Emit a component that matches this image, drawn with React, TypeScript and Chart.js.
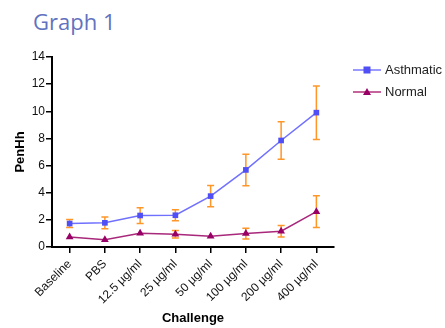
import React, { useEffect, useRef } from "react";
import { Chart, registerables } from "chart.js";

Chart.register(...registerables);

const categories = ["Baseline", "PBS", "12.5 µg/ml", "25 µg/ml", "50 µg/ml", "100 µg/ml", "200 µg/ml", "400 µg/ml"];
const asthmatic = [1.73, 1.78, 2.32, 2.34, 3.75, 5.68, 7.85, 9.9];
const asthmaticErr = [0.29, 0.43, 0.58, 0.4, 0.79, 1.16, 1.38, 1.97];
const normal = [0.74, 0.54, 1.01, 0.94, 0.79, 0.99, 1.16, 2.6];
const normalErr = [0, 0, 0, 0.28, 0, 0.4, 0.42, 1.17];
const yTicks = [0, 2, 4, 6, 8, 10, 12, 14];

const FONT = "'Liberation Sans', Arial, sans-serif";
const ERR_COLOR = "#FF9628";

const errorBarPlugin = {
  id: "errorBars",
  beforeDatasetsDraw(chart: any) {
    const ctx = chart.ctx;
    const y = chart.scales.y;
    const errs = [asthmaticErr, normalErr];
    ctx.save();
    ctx.strokeStyle = ERR_COLOR;
    ctx.lineWidth = 1.5;
    chart.data.datasets.forEach((ds: any, di: number) => {
      const meta = chart.getDatasetMeta(di);
      meta.data.forEach((pt: any, i: number) => {
        const e = errs[di][i];
        if (!e) return;
        const v = ds.data[i];
        const yt = y.getPixelForValue(v + e);
        const yb = y.getPixelForValue(v - e);
        const x = pt.x;
        ctx.beginPath();
        ctx.moveTo(x, yt);
        ctx.lineTo(x, yb);
        ctx.moveTo(x - 3.5, yt);
        ctx.lineTo(x + 3.5, yt);
        ctx.moveTo(x - 3.5, yb);
        ctx.lineTo(x + 3.5, yb);
        ctx.stroke();
      });
    });
    ctx.restore();
  },
};

const legendPlugin = {
  id: "customLegend",
  afterDraw(chart: any) {
    const ctx = chart.ctx;
    const items = [
      { label: "Asthmatic", line: "#7A7AFF", fill: "#4F4FF5", shape: "rect", y: 70 },
      { label: "Normal", line: "#B0307A", fill: "#990066", shape: "triangle", y: 92 },
    ];
    ctx.save();
    items.forEach((it) => {
      ctx.strokeStyle = it.line;
      ctx.lineWidth = 1.5;
      ctx.beginPath();
      ctx.moveTo(353, it.y);
      ctx.lineTo(381, it.y);
      ctx.stroke();
      ctx.fillStyle = it.fill;
      if (it.shape === "rect") {
        ctx.fillRect(367 - 3.5, it.y - 3.5, 7, 7);
      } else {
        ctx.beginPath();
        ctx.moveTo(367, it.y - 4);
        ctx.lineTo(371, it.y + 3);
        ctx.lineTo(363, it.y + 3);
        ctx.closePath();
        ctx.fill();
      }
      ctx.fillStyle = "#222";
      ctx.font = `13px ${FONT}`;
      ctx.textBaseline = "middle";
      ctx.textAlign = "left";
      ctx.fillText(it.label, 385, it.y);
    });
    ctx.restore();
  },
};

export default function App() {
  const ref = useRef<HTMLCanvasElement>(null);
  useEffect(() => {
    const chart = new Chart(ref.current!, {
      type: "line",
      data: {
        labels: categories,
        datasets: [
          {
            label: "Asthmatic",
            data: asthmatic,
            borderColor: "#7070FF",
            backgroundColor: "#4F4FF5",
            borderWidth: 1.5,
            pointStyle: "rect",
            pointRadius: 4,
            pointBorderWidth: 0,
            pointBackgroundColor: "#4F4FF5",
            tension: 0,
          },
          {
            label: "Normal",
            data: normal,
            borderColor: "#A8287A",
            backgroundColor: "#990066",
            borderWidth: 1.5,
            pointStyle: "triangle",
            pointRadius: 4.5,
            pointBorderWidth: 0,
            pointBackgroundColor: "#990066",
            tension: 0,
          },
        ],
      },
      options: {
        animation: false,
        responsive: false,
        maintainAspectRatio: false,
        layout: { padding: { left: 0, right: 111, top: 57, bottom: 0 } },
        plugins: {
          legend: { display: false },
          tooltip: { enabled: false },
          title: { display: false },
        },
        scales: {
          x: {
            type: "category",
            offset: true,
            grid: {
              offset: false,
              drawOnChartArea: false,
              drawTicks: true,
              tickLength: 6,
              tickColor: "#000",
              lineWidth: 1.5,
            },
            border: { display: true, color: "#000", width: 2 },
            ticks: {
              color: "#111",
              font: { family: FONT, size: 12 },
              maxRotation: 45,
              minRotation: 45,
              autoSkip: false,
              padding: 4,
            },
            title: {
              display: true,
              text: "Challenge",
              color: "#000",
              font: { family: FONT, size: 13, weight: "bold" },
              padding: { top: 0, bottom: 2 },
            },
            afterFit(scale: any) {
              scale.height = 81;
            },
          } as any,
          y: {
            min: 0,
            max: 14,
            afterBuildTicks(scale: any) {
              scale.ticks = yTicks.map((v) => ({ value: v }));
            },
            grid: {
              drawOnChartArea: false,
              drawTicks: true,
              tickLength: 6,
              tickColor: "#000",
              lineWidth: 1.5,
            },
            border: { display: true, color: "#000", width: 2 },
            ticks: {
              color: "#111",
              font: { family: FONT, size: 12 },
              padding: 1,
            },
            title: {
              display: true,
              text: "PenHh",
              color: "#000",
              font: { family: FONT, size: 13, weight: "bold" },
              padding: { top: 13, bottom: 6 },
            },
            afterFit(scale: any) {
              scale.width = 52;
            },
          } as any,
        },
      },
      plugins: [errorBarPlugin, legendPlugin],
    });
    return () => chart.destroy();
  }, []);

  return (
    <div style={{ position: "absolute", left: 0, top: 0, width: 445, height: 328, background: "#fff" }}>
      <div
        style={{
          position: "absolute",
          left: 33,
          top: 6,
          fontFamily: "'Open Sans', sans-serif",
          fontSize: 22,
          color: "#6272BE",
          lineHeight: "30px",
          whiteSpace: "nowrap",
        }}
      >
        Graph 1
      </div>
      <canvas ref={ref} width={445} height={328} style={{ position: "absolute", left: 0, top: 0 }} />
    </div>
  );
}
